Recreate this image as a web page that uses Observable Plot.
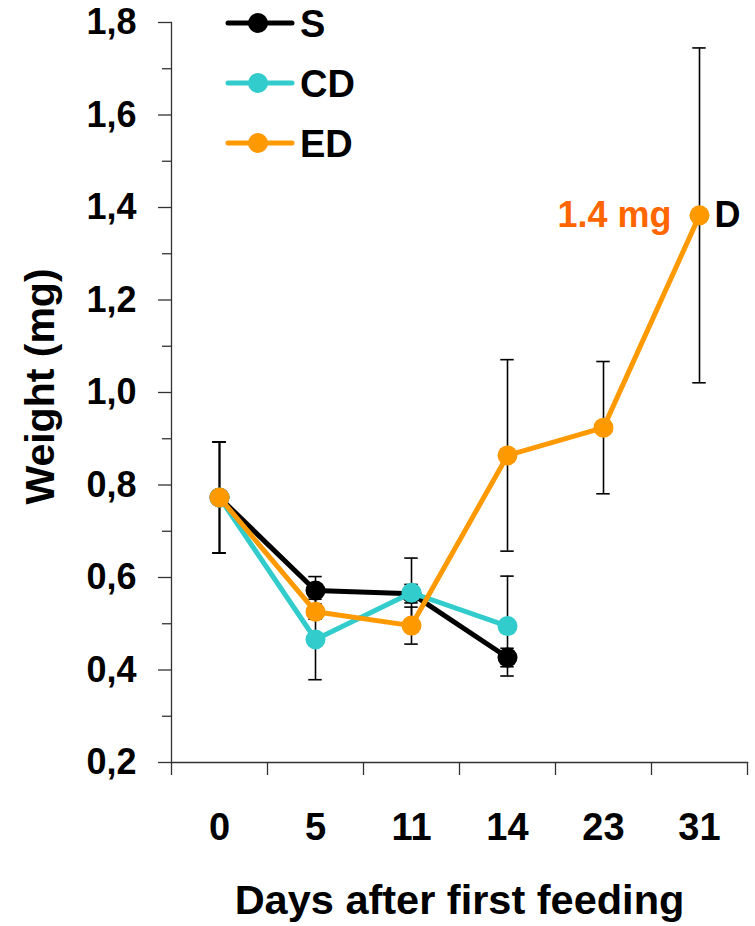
<!DOCTYPE html>
<html>
<head>
<meta charset="utf-8">
<script src="https://cdn.jsdelivr.net/npm/d3@7"></script>
<script src="https://cdn.jsdelivr.net/npm/@observablehq/plot@0.6"></script>
<style>
  html, body { margin: 0; padding: 0; background: #fff; }
  #wrap { position: relative; width: 755px; height: 926px; font-family: "Liberation Sans", Arial, sans-serif; }
  #legend { position: absolute; left: 220px; top: 0px; }
</style>
</head>
<body>
<div id="wrap"><div id="chart"></div><div id="legend"></div></div>
<script>
// ---- data ----
const days = ["0", "5", "11", "14", "23", "31"];
const seriesNames = ["S", "CD", "ED"];
const seriesColors = ["#000000", "#33CCCC", "#FF9900"];

const sMean  = [0.773, 0.572, 0.565, 0.427];
const sErr   = [0.12, 0.03, 0.02, 0.02];
const cdMean = [0.773, 0.466, 0.567, 0.495];
const cdErr  = [0.12, 0.087, 0.075, 0.108];
const edMean = [0.773, 0.526, 0.496, 0.864, 0.924, 1.383];
const edErr  = [0.12, 0.016, 0.04, 0.207, 0.143, 0.362];

const yMajorTicks = [0.2, 0.4, 0.6, 0.8, 1.0, 1.2, 1.4, 1.6, 1.8];
const yMinorTicks = [0.3, 0.5, 0.7, 0.9, 1.1, 1.3, 1.5, 1.7];
const annotValue = "1.4 mg";
const annotLetter = "D";
const yTitle = "Weight (mg)";
const xTitle = "Days after first feeding";

// ---- build rows ----
function rowsFor(name, means, errs) {
  return means.map((v, i) => ({ series: name, idx: i, day: days[i], y: v, err: errs[i] }));
}
const sRows = rowsFor("S", sMean, sErr);
const cdRows = rowsFor("CD", cdMean, cdErr);
const edRows = rowsFor("ED", edMean, edErr);
const allRows = [...sRows, ...cdRows, ...edRows];
const bounds = d3.range(-0.5, days.length, 1);

const font = "Liberation Sans, Arial, sans-serif";
const axisColor = "#333";
const capHalf = 0.07;

function seriesMarks(rows) {
  return [
    Plot.line(rows, { x: "idx", y: "y", stroke: "series", strokeWidth: 5 }),
    Plot.dot(rows, { x: "idx", y: "y", fill: "series", r: 10 })
  ];
}

const chart = Plot.plot({
  width: 755,
  height: 926,
  marginLeft: 171,
  marginRight: 8,
  marginTop: 22,
  marginBottom: 164,
  style: { fontFamily: font, background: "#fff", overflow: "visible" },
  x: { type: "linear", domain: [-0.5, days.length - 0.5] },
  y: { domain: [0.2, 1.8] },
  color: { domain: seriesNames, range: seriesColors },
  marks: [
    // axes lines
    Plot.frame({ anchor: "left", stroke: axisColor, strokeWidth: 1.3 }),
    Plot.frame({ anchor: "bottom", stroke: axisColor, strokeWidth: 1.3 }),
    // y axis
    Plot.axisY({ ticks: yMinorTicks, tickSize: 9, tickFormat: () => "", label: null, stroke: axisColor, strokeWidth: 1.3 }),
    Plot.axisY({
      ticks: yMajorTicks, tickSize: 13, tickPadding: 22, label: null,
      tickFormat: d => d.toFixed(1).replace(".", ","),
      fontSize: 36, fontWeight: "bold", stroke: axisColor, strokeWidth: 1.3, fill: "#000"
    }),
    // x axis
    Plot.axisX({ ticks: bounds, tickSize: 13, tickFormat: () => "", label: null, stroke: axisColor, strokeWidth: 1.3 }),
    Plot.axisX({
      ticks: d3.range(days.length), tickSize: 0, tickPadding: 51, label: null,
      tickFormat: i => days[i], fontSize: 38, fontWeight: "bold", fill: "#000"
    }),
    // axis titles
    Plot.text([yTitle], { frameAnchor: "left", text: d => d, rotate: -90, dx: -131, dy: -6, textAnchor: "middle", lineAnchor: "middle", fontSize: 41, fontWeight: "bold", fill: "#000" }),
    Plot.text([xTitle], { frameAnchor: "bottom", text: d => d, dy: 138, textAnchor: "middle", lineAnchor: "middle", fontSize: 41.5, fontWeight: "bold", fill: "#000" }),
    // error bars
    Plot.ruleX(allRows, { x: "idx", y1: d => d.y - d.err, y2: d => d.y + d.err, stroke: "#000", strokeWidth: 1.6 }),
    Plot.ruleY(allRows, { y: d => d.y + d.err, x1: d => d.idx - capHalf, x2: d => d.idx + capHalf, stroke: "#000", strokeWidth: 1.6 }),
    Plot.ruleY(allRows, { y: d => d.y - d.err, x1: d => d.idx - capHalf, x2: d => d.idx + capHalf, stroke: "#000", strokeWidth: 1.6 }),
    // series
    ...seriesMarks(sRows),
    ...seriesMarks(cdRows),
    ...seriesMarks(edRows),
    // annotation at last ED point
    Plot.text([edRows[edRows.length - 1]], { x: "idx", y: "y", text: () => annotValue, textAnchor: "end", dx: -28, lineAnchor: "middle", fontSize: 36, fontWeight: "bold", fill: "#FF6600" }),
    Plot.text([edRows[edRows.length - 1]], { x: "idx", y: "y", text: () => annotLetter, textAnchor: "start", dx: 15, lineAnchor: "middle", fontSize: 36, fontWeight: "bold", fill: "#000" })
  ]
});
document.getElementById("chart").appendChild(chart);

// ---- legend ----
const lg = d3.select("#legend").append("svg").attr("width", 200).attr("height", 170)
  .style("font-family", font);
seriesNames.forEach((name, i) => {
  const cy = 23 + i * 60;
  const g = lg.append("g");
  g.append("line").attr("x1", 8).attr("x2", 72).attr("y1", cy).attr("y2", cy)
    .attr("stroke", seriesColors[i]).attr("stroke-width", 5).attr("stroke-linecap", "round");
  g.append("circle").attr("cx", 38).attr("cy", cy).attr("r", 10).attr("fill", seriesColors[i]);
  g.append("text").attr("x", 80).attr("y", cy).attr("dy", "0.36em")
    .attr("font-size", 38).attr("font-weight", "bold").attr("fill", "#000").text(name);
});
</script>
</body>
</html>
